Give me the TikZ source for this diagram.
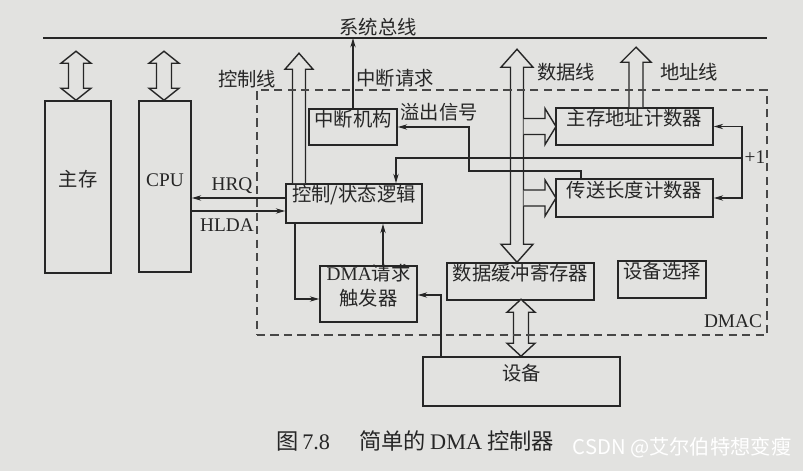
\documentclass[tikz,border=0pt]{standalone}
\usepackage{fontspec}
\setmainfont{Liberation Serif}
\newfontfamily\cjk{Noto Sans CJK SC}
\usetikzlibrary{arrows.meta,calc,fit}
\definecolor{paper}{HTML}{E2E2E0}
\definecolor{ink}{HTML}{262626}
% vertical double block arrow: #1 bottom tip, #2 length, #3 shaft half, #4 head half, #5 head length
\newcommand\dblarrowv[5]{%
  \pgfmathsetmacro\myshaft{#2-2*#5}%
  \pgfmathsetmacro\myhs{#4-#3}%
  \draw[fat] (#1) -- ++(#4,-#5) -- ++(-\myhs,0) -- ++(0,-\myshaft) -- ++(\myhs,0) -- ++(-#4,-#5)
     -- ++(-#4,#5) -- ++(\myhs,0) -- ++(0,\myshaft) -- ++(-\myhs,0) -- cycle;}
% single upward block arrow: #1 bottom centre of shaft, #2 length, #3 shaft half, #4 head half, #5 head length
\newcommand\uparrowv[5]{%
  \pgfmathsetmacro\myshaft{#2-#5}%
  \pgfmathsetmacro\myhs{#4-#3}%
  \draw[fat] (#1) ++(#3,0) -- ++(0,-\myshaft) -- ++(\myhs,0) -- ++(-#4,-#5)
     -- ++(-#4,#5) -- ++(\myhs,0) -- ++(0,\myshaft);}
% single rightward block arrow: #1 left centre of shaft, #2 length, #3 shaft half, #4 head half, #5 head length
\newcommand\rightarrowh[5]{%
  \pgfmathsetmacro\myshaft{#2-#5}%
  \pgfmathsetmacro\myhs{#4-#3}%
  \draw[fat] (#1) ++(0,-#3) -- ++(\myshaft,0) -- ++(0,-\myhs) -- ++(#5,#4)
     -- ++(-#5,#4) -- ++(0,-\myhs) -- ++(-\myshaft,0);}
\begin{document}
\begin{tikzpicture}[x=0.03cm,y=-0.03cm,
  every node/.style={text=ink, font=\fontsize{16.5}{21}\selectfont},
  box/.style={draw=ink, line width=1.3pt, inner sep=0pt, align=center},
  conn/.style={draw=ink, line width=1.2pt},
  arr/.style={conn, -{Stealth[length=8pt,width=4.5pt]}},
  fat/.style={draw=ink, line width=1.2pt, fill=paper, line join=miter},
  lbl/.style={inner sep=0pt},
  dmacbox/.style={draw=ink!85, line width=1.2pt, dash pattern=on 7pt off 4.5pt, inner sep=0pt},
]
\fill[paper] (0,0) rectangle (803,471);
\useasboundingbox (0,0) rectangle (803,471);

% helper coordinates
\coordinate (busL) at (43,38);
\coordinate (busR) at (767,38);
\coordinate (xmem) at (76,0);
\coordinate (xcpu) at (164,0);
\coordinate (xcl) at (299,0);
\coordinate (xdb) at (517,0);
\coordinate (xad) at (636,0);
\coordinate (xdev) at (521,0);
\coordinate (xleft) at (295,0);
\coordinate (xreq) at (383,0);
\coordinate (xdl) at (441,0);
\coordinate (xov1) at (581,0);
\coordinate (xov2) at (469,0);
\coordinate (xinc) at (742,0);
\coordinate (xinc2) at (396,0);
\coordinate (yHRQ) at (0,198);
\coordinate (yHLDA) at (0,211);
\coordinate (yreq) at (0,299);
\coordinate (ydev) at (0,295);
\coordinate (yov) at (0,171);
\coordinate (yinc) at (0,158);

% boxes
\node[box, fit={(45,101) (111,273)}] (mem) {\cjk 主存};
\node[box, fit={(139,101) (191,272)}] (cpu) {CPU};
\node[box, fit={(309,109) (397,145)}] (int) {\cjk 中断机构};
\node[box, fit={(286,184) (422,223)}] (ctrl) {\cjk 控制/状态逻辑};
\node[box, fit={(556,108) (713,145)}] (maddr) {\cjk 主存地址计数器};
\node[box, fit={(556,179) (713,217)}] (tlc) {\cjk 传送长度计数器};
\node[box, fit={(320,266) (417,322)}] (dreq) {DMA{\cjk 请求}\\{\cjk 触发器}};
\node[box, fit={(447,263) (594,300)}] (buf) {\cjk 数据缓冲寄存器};
\node[box, fit={(618,261) (706,298)}] (sel) {\cjk 设备选择};
\node[box, fit={(423,357) (620,406)}] (dev) {\cjk 设备};

% block arrows
\dblarrowv{mem.north -| xmem}{49}{7.5}{15}{12}
\dblarrowv{cpu.north -| xcpu}{49}{7.5}{15}{12}
\uparrowv{ctrl.north -| xcl}{130}{6.5}{14}{16}
\dblarrowv{buf.north -| xdb}{213}{6.5}{16}{18}
\uparrowv{maddr.north -| xad}{60}{7}{15}{15}
\rightarrowh{$(xdb |- maddr.west)+(6.5,0)$}{32.5}{8}{18}{11}
\rightarrowh{$(xdb |- tlc.west)+(6.5,0)$}{32.5}{8}{18}{11}
\dblarrowv{dev.north -| xdev}{57}{7.5}{14}{13}

% DMAC dashed frame
\node[dmacbox, fit={(257,90) (767,335)}] (dmac) {};
\node[lbl] (dmaclbl) at (733,321) {DMAC};

% system bus
\draw[conn, line width=1.3pt] (busL) -- (busR);
\node[lbl] (buslbl) at (378,27) {\cjk 系统总线};

% connectors
\draw[arr] (int.north) -- (int.north |- busL);
\draw[arr] (ctrl.west |- yHRQ) -- (cpu.east |- yHRQ);
\draw[arr] (cpu.east |- yHLDA) -- (ctrl.west |- yHLDA);
\draw[arr] (ctrl.south -| xleft) |- (dreq.west |- yreq);
\draw[arr] (dreq.north -| xreq) -- (ctrl.south -| xreq);
\draw[arr] (dev.north -| xdl) |- (dreq.east |- ydev);
\draw[arr] (tlc.north -| xov1) |- (xov2 |- yov) |- (int.east);
\draw[arr] (xinc |- yinc) |- (maddr.east);
\draw[arr] (xinc |- yinc) |- (tlc.east);
\draw[arr] (xinc |- yinc) -- (xinc2 |- yinc) -- (ctrl.north -| xinc2);

% labels
\node[lbl] (cl) at (247,79) {\cjk 控制线};
\node[lbl] (irq) at (395,78) {\cjk 中断请求};
\node[lbl] (dl) at (566,72) {\cjk 数据线};
\node[lbl] (al) at (689,72) {\cjk 地址线};
\node[lbl] (ovl) at (439,112) {\cjk 溢出信号};
\node[lbl] (hrq) at (232,186) {HRQ};
\node[lbl] (hlda) at (227,225) {HLDA};
\node[lbl] (inc) at (755,157) {+1};

% caption and watermark
\node[lbl, font=\fontsize{19}{22}\selectfont] (cap) at (415,441)
  {{\cjk 图}\hspace{3.4pt}7.8\hspace{25pt}{\cjk 简单的}\hspace{3.4pt}DMA\hspace{4.3pt}{\cjk 控制器}};
\node[lbl, text=white, font=\cjk\fontsize{17.3}{20}\selectfont] (wm) at (682,448) {CSDN @艾尔伯特想变瘦};
\end{tikzpicture}
\end{document}
